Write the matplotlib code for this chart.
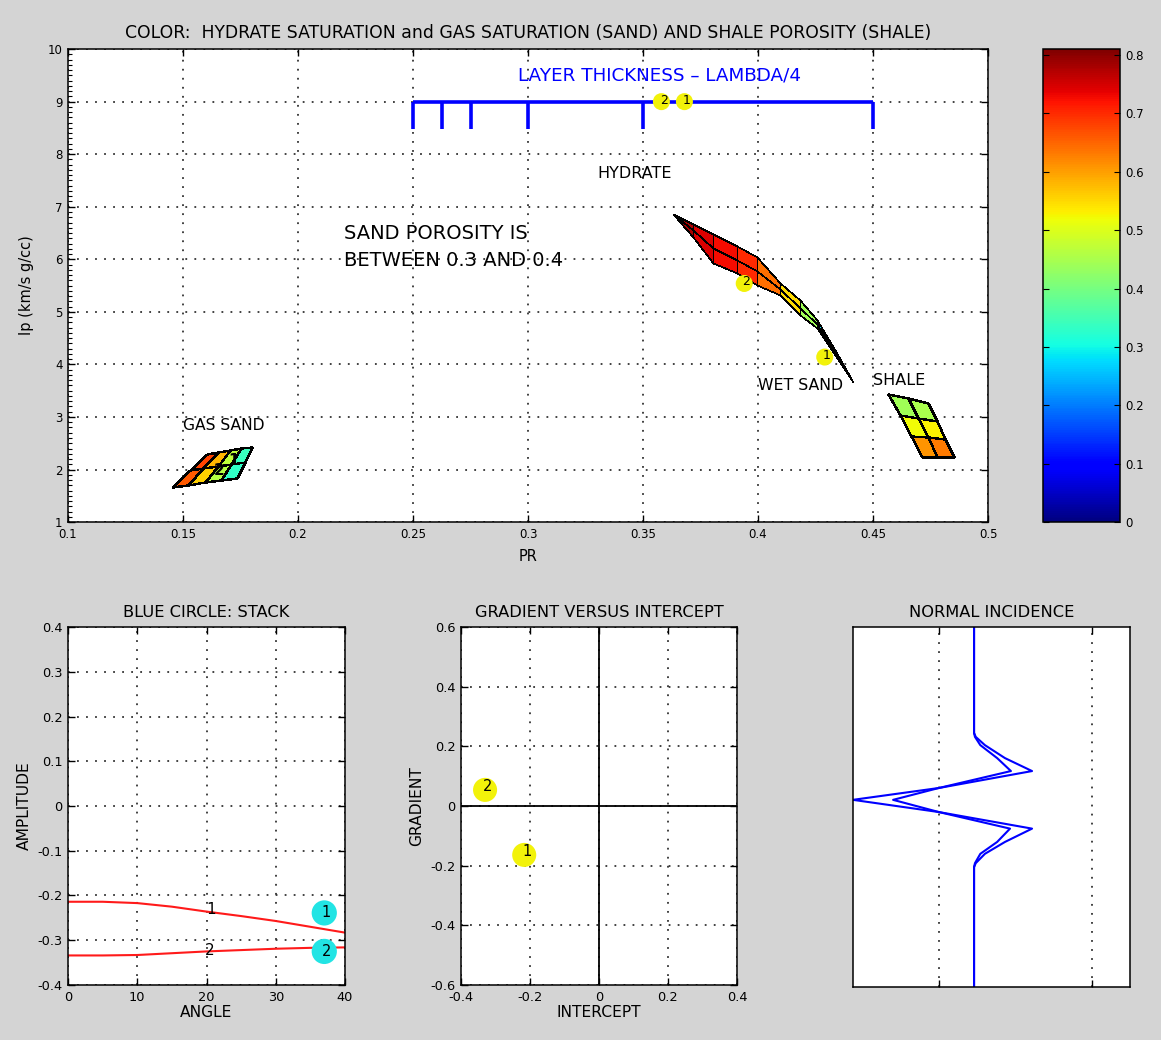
import numpy as np
import matplotlib
import matplotlib.pyplot as plt
from matplotlib.colors import Normalize
from matplotlib.ticker import FuncFormatter, MultipleLocator

plt.rcParams['font.family'] = ['DejaVu Sans']

# ---- main crossplot: Poisson ratio vs P-impedance ----
pr_ticks = [0.1, 0.15, 0.2, 0.25, 0.3, 0.35, 0.4, 0.45, 0.5]
ip_ticks = [1, 2, 3, 4, 5, 6, 7, 8, 9, 10]
cbar_ticks = [0, 0.1, 0.2, 0.3, 0.4, 0.5, 0.6, 0.7, 0.8]

# hydrate sand: one row per hydrate saturation, lower / mid / upper edge of the porosity band
hyd_sat = [0.80, 0.76, 0.73, 0.72, 0.68, 0.60, 0.50, 0.38, 0.18, 0.0]
hyd_pr = [0.3630, 0.3717, 0.3804, 0.3909, 0.3996, 0.4096, 0.4183, 0.4257, 0.4335, 0.4413]
hyd_ip_lo = [6.869, 6.433, 5.939, 5.730, 5.503, 5.313, 4.934, 4.687, 4.175, 3.662]
hyd_ip_mid = [6.869, 6.556, 6.215, 5.996, 5.778, 5.427, 5.076, 4.763, 4.222, 3.662]
hyd_ip_hi = [6.869, 6.679, 6.490, 6.262, 6.053, 5.541, 5.218, 4.839, 4.269, 3.662]

# gas sand mesh (rows bottom -> top)
gas_pr = [[0.1452, 0.1522, 0.1596, 0.1666, 0.1735],
          [0.1529, 0.1588, 0.1651, 0.1710, 0.1768],
          [0.1605, 0.1653, 0.1705, 0.1753, 0.1800]]
gas_ip = [[1.670, 1.708, 1.765, 1.803, 1.841],
          [1.983, 2.021, 2.069, 2.107, 2.135],
          [2.296, 2.334, 2.372, 2.410, 2.429]]
gas_sat = [[0.66, 0.56, 0.46, 0.33],
           [0.68, 0.58, 0.47, 0.34]]

# shale mesh (rows top -> bottom)
shale_pr = [[0.4567, 0.4654, 0.4741],
            [0.4617, 0.4696, 0.4777],
            [0.4666, 0.4738, 0.4814],
            [0.4715, 0.4780, 0.4850]]
shale_ip = [[3.434, 3.359, 3.264],
            [3.036, 2.985, 2.922],
            [2.638, 2.613, 2.581],
            [2.239, 2.239, 2.239]]
shale_phi = [[0.44, 0.45],
             [0.52, 0.53],
             [0.61, 0.63]]

# layer thickness bracket
layer_pr = [0.25, 0.2625, 0.275, 0.3, 0.35, 0.45]
layer_ip_top = 9.0
layer_ip_bot = 8.47

# numbered interface points
pts_pr = [0.368, 0.358, 0.429, 0.394]
pts_ip = [9.0, 9.0, 4.14, 5.54]
pts_lab = ['1', '2', '1', '2']

# ---- AVO stack ----
angle = [0, 5, 10, 15, 20, 25, 30, 35, 40]
amp1 = [-0.214, -0.214, -0.217, -0.225, -0.236, -0.246, -0.257, -0.270, -0.283]
amp2 = [-0.334, -0.334, -0.333, -0.329, -0.325, -0.322, -0.319, -0.317, -0.316]
stack_angle = [37, 37]
stack_amp = [-0.239, -0.325]

# ---- gradient vs intercept ----
gi_intercept = [-0.2165, -0.330]
gi_gradient = [-0.164, 0.054]

# ---- normal incidence traces ----
ni_t = [0, 29.4, 30.5, 32.8, 36.4, 40.0, 44.7, 48.0, 51.4, 56.0, 59.7, 63.0, 65.6, 66.7, 100]
ni_outer = [0.229, 0.229, 0.24, 0.30, 0.431, 0.608, 0.0, -0.562, 0.0, 0.608, 0.431, 0.30, 0.24, 0.229, 0.229]
ni_inner = [0.229, 0.229, 0.235, 0.27, 0.38, 0.47, 0.0, -0.30, 0.0, 0.464, 0.38, 0.27, 0.235, 0.229, 0.229]

bg = '#d4d4d4'
grid_kw = dict(color='#333333', linestyle=(0, (1, 4)), linewidth=1.3)
fmt = FuncFormatter(lambda v, p: '%g' % (round(v, 4) + 0.0))


def matlab_axes(ax, tick_size=8.5):
    ax.set_facecolor('white')
    for s in ax.spines.values():
        s.set_linewidth(1.1)
        s.set_color('black')
    ax.tick_params(direction='in', top=True, right=True, length=5, width=1,
                   labelsize=tick_size, pad=4)
    ax.grid(True, **grid_kw)
    ax.set_axisbelow(True)


fig = plt.figure(figsize=(11.61, 10.40), dpi=100, facecolor=bg)
norm = Normalize(vmin=0, vmax=0.81)
cmap = matplotlib.colormaps['jet']

# main axes
ax = fig.add_axes([0.0586, 0.498, 0.7924, 0.4548])
matlab_axes(ax)
ax.set_xlim(0.1, 0.5)
ax.set_ylim(1, 10)
ax.set_xticks(pr_ticks)
ax.set_yticks(ip_ticks)
ax.yaxis.set_minor_locator(MultipleLocator(0.1))
ax.tick_params(which='minor', direction='in', left=True, right=False, length=3, width=0.8)
ax.xaxis.set_major_formatter(fmt)
ax.set_xlabel('PR', fontsize=10.5, labelpad=6)
ax.set_ylabel('Ip (km/s g/cc)', fontsize=10.5, labelpad=10)
ax.set_title('COLOR:  HYDRATE SATURATION and GAS SATURATION (SAND) AND SHALE POROSITY (SHALE)',
             fontsize=12.4, pad=8)

# hydrate surface
hx = np.column_stack([hyd_pr, hyd_pr, hyd_pr])
hy = np.column_stack([hyd_ip_lo, hyd_ip_mid, hyd_ip_hi])
hs = np.array(hyd_sat)
hc = np.column_stack([(hs[:-1] + hs[1:]) / 2] * 2)
mesh = ax.pcolormesh(hx, hy, hc, cmap=cmap, norm=norm, edgecolors='k', linewidth=0.4, zorder=3)

ax.pcolormesh(np.array(gas_pr), np.array(gas_ip), np.array(gas_sat), cmap=cmap, norm=norm,
              edgecolors='k', linewidth=1.0, zorder=3)
ax.pcolormesh(np.array(shale_pr), np.array(shale_ip), np.array(shale_phi), cmap=cmap, norm=norm,
              edgecolors='k', linewidth=1.0, zorder=3)

# layer thickness bracket
ax.hlines(layer_ip_top, layer_pr[0], layer_pr[-1], color='#0000ff', linewidth=2.6, zorder=3)
ax.vlines(layer_pr, layer_ip_bot, layer_ip_top, color='#0000ff', linewidth=2.6, zorder=3)

ax.scatter(pts_pr, pts_ip, s=150, color='#f2f20a', edgecolors='none', zorder=4)
for x, y, t in zip(pts_pr, pts_ip, pts_lab):
    ax.text(x + 0.001, y + 0.03, t, fontsize=9, ha='center', va='center', zorder=5)

ax.text(0.357, 9.49, 'LAYER THICKNESS \u2013 LAMBDA/4', color='#0000ff', fontsize=13.2,
        ha='center', va='center')
ax.text(0.3465, 7.63, 'HYDRATE', fontsize=11.5, ha='center', va='center')
ax.text(0.22, 6.49, 'SAND POROSITY IS', fontsize=14, ha='left', va='center')
ax.text(0.22, 5.98, 'BETWEEN 0.3 AND 0.4', fontsize=14, ha='left', va='center')
ax.text(0.400, 3.59, 'WET SAND', fontsize=11.3, ha='left', va='center')
ax.text(0.450, 3.70, 'SHALE', fontsize=11.5, ha='left', va='center')
ax.text(0.150, 2.83, 'GAS SAND', fontsize=11.2, ha='left', va='center')
ax.text(0.1657, 1.99, '2', fontsize=11, fontweight='bold', ha='center', va='center', zorder=6)
ax.text(0.1720, 2.18, '1', fontsize=11, fontweight='bold', ha='center', va='center', zorder=6)

# colorbar
cax = fig.add_axes([0.8984, 0.498, 0.0663, 0.4548])
cb = fig.colorbar(mesh, cax=cax, ticks=cbar_ticks)
cb.outline.set_linewidth(1.1)
cax.tick_params(direction='in', left=True, right=True, length=4, labelsize=8.5)
cax.yaxis.set_major_formatter(fmt)

# stack
ax1 = fig.add_axes([0.0586, 0.0529, 0.2386, 0.3442])
matlab_axes(ax1, 9.3)
ax1.set_xlim(0, 40)
ax1.set_ylim(-0.4, 0.4)
ax1.set_xticks([0, 10, 20, 30, 40])
ax1.set_yticks(np.round(np.arange(-0.4, 0.41, 0.1), 1))
ax1.yaxis.set_major_formatter(fmt)
ax1.plot(angle, amp1, color='#ff1a1a', linewidth=1.5)
ax1.plot(angle, amp2, color='#ff1a1a', linewidth=1.5)
ax1.text(20.6, -0.232, '1', fontsize=11, ha='center', va='center')
ax1.text(20.4, -0.323, '2', fontsize=11, ha='center', va='center')
ax1.scatter(stack_angle, stack_amp, s=330, color='#22e4e4', edgecolors='none', zorder=4)
for y, t in zip(stack_amp, ['1', '2']):
    ax1.text(stack_angle[0] + 0.3, y, t, fontsize=10.5, ha='center', va='center', zorder=5)
ax1.set_title('BLUE CIRCLE: STACK', fontsize=11.7, pad=7)
ax1.set_xlabel('ANGLE', fontsize=11.2, labelpad=1)
ax1.set_ylabel('AMPLITUDE', fontsize=11.2, labelpad=4)

# gradient vs intercept
ax2 = fig.add_axes([0.397, 0.0529, 0.2377, 0.3442])
matlab_axes(ax2, 9.3)
ax2.set_xlim(-0.4, 0.4)
ax2.set_ylim(-0.6, 0.6)
ax2.set_xticks([-0.4, -0.2, 0, 0.2, 0.4])
ax2.set_yticks([-0.6, -0.4, -0.2, 0, 0.2, 0.4, 0.6])
ax2.xaxis.set_major_formatter(fmt)
ax2.yaxis.set_major_formatter(fmt)
ax2.axhline(0, color='black', linewidth=1.3, zorder=2)
ax2.axvline(0, color='black', linewidth=1.3, zorder=2)
ax2.scatter(gi_intercept, gi_gradient, s=300, color='#f2f20a', edgecolors='none', zorder=4)
for x, y, t in zip(gi_intercept, gi_gradient, ['1', '2']):
    ax2.text(x + 0.008, y + 0.01, t, fontsize=10.5, ha='center', va='center', zorder=5)
ax2.set_title('GRADIENT VERSUS INTERCEPT', fontsize=11.7, pad=7)
ax2.set_xlabel('INTERCEPT', fontsize=11.2, labelpad=1)
ax2.set_ylabel('GRADIENT', fontsize=11.2, labelpad=4)

# normal incidence
ax3 = fig.add_axes([0.7347, 0.051, 0.2386, 0.346])
matlab_axes(ax3)
ax3.grid(False)
ax3.xaxis.grid(True, **grid_kw)
ax3.set_xlim(-0.562, 1.248)
ax3.set_ylim(100, 0)
ax3.set_xticks([0, 1])
ax3.set_yticks([])
ax3.tick_params(labelbottom=False, labelleft=False)
ax3.plot(ni_outer, ni_t, color='#0000ff', linewidth=1.5)
ax3.plot(ni_inner, ni_t, color='#0000ff', linewidth=1.5)
ax3.set_title('NORMAL INCIDENCE', fontsize=11.7, pad=7)

fig.savefig('out.png', dpi=100, facecolor=bg)
